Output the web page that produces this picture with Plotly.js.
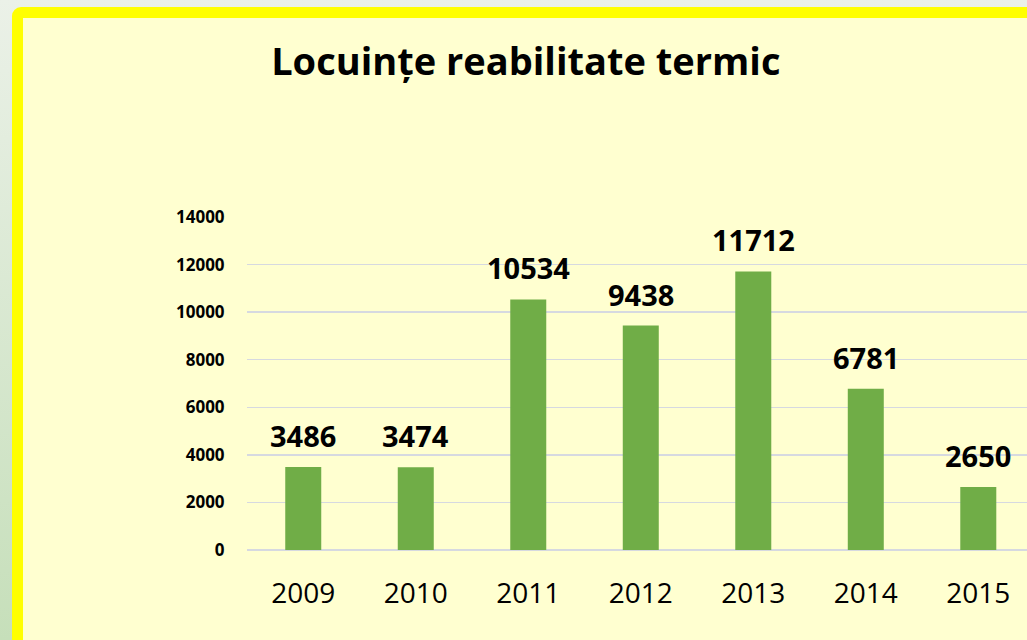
<!DOCTYPE html>
<html><head><meta charset="utf-8">
<script src="https://cdn.plot.ly/plotly-3.0.1.min.js"></script>
<style>
html,body{margin:0;padding:0;width:1027px;height:640px;overflow:hidden;}
body{background:linear-gradient(#EBF1E8,#C6DFBA);position:relative;}
#frame{position:absolute;left:12px;top:7px;width:1040px;height:660px;background:#FFFFD0;border:11px solid #FFFF00;border-top-left-radius:9px;box-sizing:border-box;}
#chart{position:absolute;left:0;top:0;width:1027px;height:640px;}
</style></head><body>
<div id="frame"></div>
<div id="chart"></div>
<script>
const years = ['2009','2010','2011','2012','2013','2014','2015'];
const values = [3486, 3474, 10534, 9438, 11712, 6781, 2650];
const yTicks = [0,2000,4000,6000,8000,10000,12000,14000];
const titleText = 'Locuințe reabilitate termic';

const font = '"Open Sans", sans-serif';
const labels = values.map((v, i) => ({
  x: i, y: v, xref:'x', yref:'y', text: '<b>' + v + '</b>',
  showarrow:false, yanchor:'bottom', yshift:10,
  font:{family:font, size:29, color:'#000'}
}));
Plotly.newPlot('chart', [{
  type:'bar', x: years, y: values,
  marker:{color:'#70AD47'},
  hoverinfo:'none'
}], {
  width:1027, height:640,
  paper_bgcolor:'rgba(0,0,0,0)', plot_bgcolor:'rgba(0,0,0,0)',
  margin:{l:247, r:0, t:217, b:90},
  bargap:0.68,
  showlegend:false,
  annotations: labels,
  title:{text:titleText, font:{family:font, size:38, color:'#000', weight:'bold'}, x:0.512, xanchor:'center', y:0.903, yanchor:'middle', yref:'container'},
  xaxis:{type:'category', range:[-0.5, 6.433], showgrid:false, showline:false, zeroline:false,
    tickfont:{family:font, size:28, color:'#000'}, ticks:'outside', ticklen:0, ticklabelstandoff:18, fixedrange:true},
  yaxis:{range:[0,14000], tickvals:yTicks, ticktext:yTicks.map(String), gridcolor:'#D6D9E0', gridwidth:1.5,
    zeroline:true, zerolinecolor:'#D6D9E0', zerolinewidth:1.5, showline:false,
    tickfont:{family:font, size:17, color:'#000', weight:'bold'}, ticks:'outside', ticklen:18, tickcolor:'rgba(0,0,0,0)', fixedrange:true}
}, {displayModeBar:false, staticPlot:true});
</script>
</body></html>
